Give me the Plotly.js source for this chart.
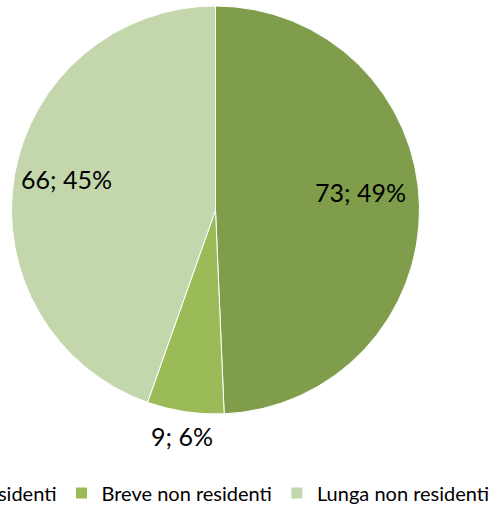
<!DOCTYPE html>
<html>
<head>
<meta charset="utf-8">
<script src="https://cdn.plot.ly/plotly-3.0.1.min.js"></script>
<style>
html, body { margin:0; padding:0; overflow:hidden; background:#fff; width:499px; height:505px; }
#wrap { position:absolute; left:-100px; top:0; width:700px; height:505px; }
</style>
</head>
<body>
<div id="wrap"></div>
<script>
const categories = ["Residenti", "Breve non residenti", "Lunga non residenti"];
const values = [73, 9, 66];
const colors = ["#7F9D4B", "#9BBB59", "#C4D6AB"];

// label placement style (radius as fraction of pie radius, vertical nudge in px)
const labelRadius = [0.71, 1.12, 0.74];
const labelYShift = [15, 0, 5];

const W = 700, H = 505, offsetX = 100;
const cx = 215.5 + offsetX, cy = 210, R = 204;

const total = values.reduce((a, b) => a + b, 0);
let cum = 0;
const annotations = values.map((v, i) => {
  const mid = (cum + v / 2) / total * 2 * Math.PI;
  cum += v;
  const r = R * labelRadius[i];
  const px = cx + r * Math.sin(mid);
  const py = cy - r * Math.cos(mid);
  return {
    xref: "paper", yref: "paper",
    x: px / W, y: 1 - py / H,
    xanchor: "center", yanchor: "middle",
    yshift: labelYShift[i],
    showarrow: false,
    text: v + "; " + Math.round(v / total * 100) + "%",
    font: { family: "Lato, sans-serif", size: 25, color: "#000000" }
  };
});

const trace = {
  type: "pie",
  labels: categories,
  values: values,
  sort: false,
  direction: "clockwise",
  rotation: 0,
  marker: { colors: colors, line: { color: "#ffffff", width: 1 } },
  textinfo: "none",
  hoverinfo: "label+value+percent",
  domain: {
    x: [(cx - R) / W, (cx + R) / W],
    y: [(H - (cy + R)) / H, (H - (cy - R)) / H]
  }
};

const layout = {
  width: W, height: H,
  margin: { l: 0, r: 0, t: 0, b: 0, autoexpand: false },
  paper_bgcolor: "#ffffff",
  showlegend: true,
  annotations: annotations,
  legend: {
    orientation: "h",
    x: (215 + offsetX) / W, xanchor: "center",
    y: (H - 493) / H, yanchor: "middle",
    font: { family: "Lato, sans-serif", size: 20, color: "#000000" },
    itemwidth: 30,
    traceorder: "normal"
  }
};

Plotly.newPlot("wrap", [trace], layout, { displayModeBar: false, staticPlot: true });
</script>
</body>
</html>
